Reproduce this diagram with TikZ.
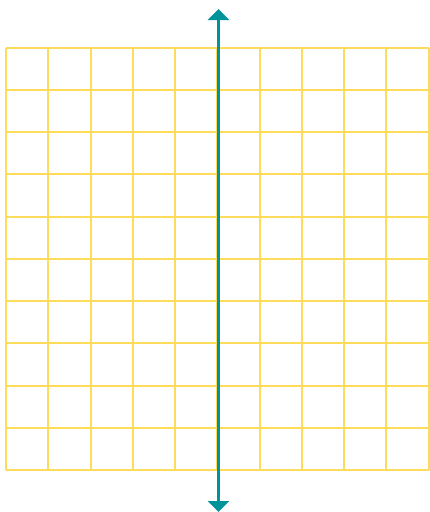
\documentclass[tikz,border=0pt]{standalone}
\usetikzlibrary{arrows.meta}
\definecolor{gridyellow}{HTML}{FCDC5A}
\definecolor{axisteal}{HTML}{00939A}
\tikzset{
  gridline/.style={draw=gridyellow, line width=2pt},
  axis/.style={{Triangle[width=21pt, length=11pt]}-{Triangle[width=21pt, length=11pt]}, draw=axisteal, line width=2.6pt},
}

\begin{document}
\begin{tikzpicture}[x=1pt, y=-1pt]
    \useasboundingbox (0,0) rectangle (430,512);
    % grid lines
    \foreach \i in {0,...,10} {
      \draw[gridline] ({6+42.25*\i},47.5) -- ({6+42.25*\i},470);
      \draw[gridline] (6,{47.5+42.25*\i}) -- (428.5,{47.5+42.25*\i});
    }
    % vertical axis
    \coordinate (top) at (218.5,9);
    \coordinate (bot) at (218.5,512);
    \draw[axis] (top) -- (bot);
  \end{tikzpicture}
\end{document}
